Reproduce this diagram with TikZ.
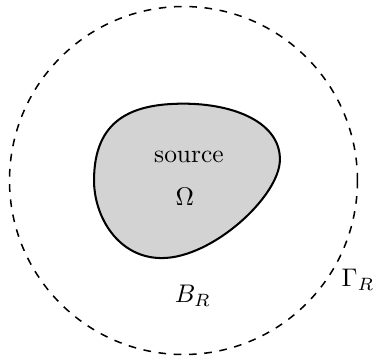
\documentclass[tikz,border=0pt]{standalone}
\usepackage{amsmath,amssymb}
\usepackage{tikz}
\usetikzlibrary{calc,positioning}
\usepackage{xcolor}
\definecolor{srcgray}{RGB}{211,211,211}

\begin{document}
\begin{tikzpicture}[scale=1.0]
  \useasboundingbox (-2.531,-2.421) rectangle (2.628,2.490);
  % Ball B_R
  \draw[dashed, semithick] (0,0) circle (2.4);

  % Source region
  \draw[thick, fill=srcgray] (-1.234,0)
    .. controls (-1.234,0.85) and (-0.7,1.06) .. (0,1.06)
    .. controls (0.7,1.06) and (1.34,0.8) .. (1.33,0.28)
    .. controls (1.32,-0.22) and (0.4,-1.07) .. (-0.3,-1.07)
    .. controls (-0.9,-1.07) and (-1.234,-0.5) .. cycle;

  % Labels
  \node (src) at (0.076,0.324) {source};
  \node (omega) at (0.02,-0.228) {$\Omega$};
  \node (br) at (0.13,-1.593) {$B_R$};
  \node (gammar) at (2.407,-1.372) {$\Gamma_R$};
\end{tikzpicture}
\end{document}
